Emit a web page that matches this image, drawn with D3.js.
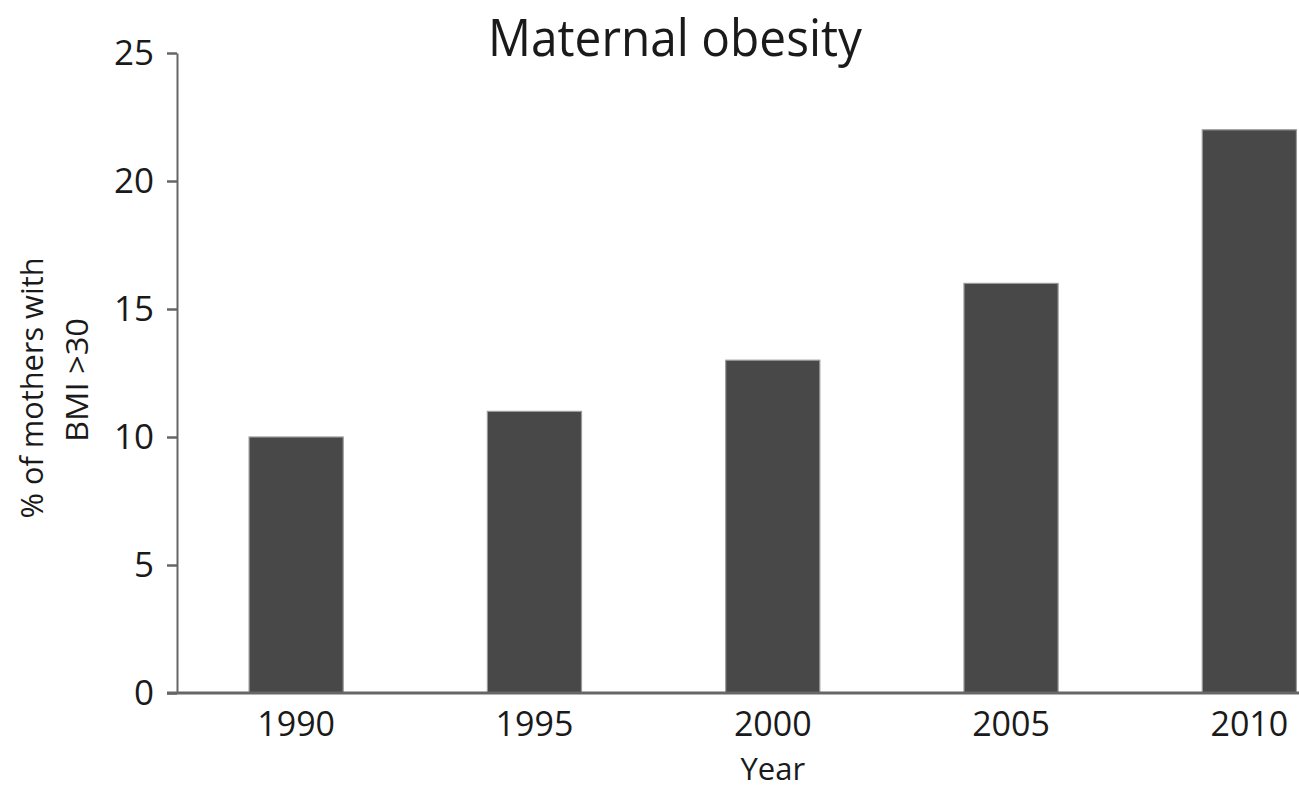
<!DOCTYPE html>
<html>
<head>
<meta charset="utf-8">
<script src="https://cdn.jsdelivr.net/npm/d3@7"></script>
<style>
  html, body { margin: 0; padding: 0; background: #fff; }
  svg { display: block; }
  text { font-family: "Open Sans", "Noto Sans", sans-serif; fill: #1a1a1a; }
</style>
</head>
<body>
<svg id="chart" width="1299" height="789"></svg>
<script>
// Share of mothers with BMI > 30, by year
const years = ["1990", "1995", "2000", "2005", "2010"];
const obesityPct = [10, 11, 13, 16, 22];
const yTicks = [0, 5, 10, 15, 20, 25];

const chartTitle = "Maternal obesity";
const yLabelLines = ["% of mothers with", "BMI >30"];
const xLabel = "Year";

const svg = d3.select("#chart");
const W = 1299, H = 789;
const axisX = 177, baseY = 693, topY = 53;
const step = 238.3;

const x = d3.scaleBand()
  .domain(years)
  .range([axisX, axisX + step * years.length])
  .paddingInner(0.605)
  .paddingOuter(0.3025);

const y = d3.scaleLinear().domain([0, 25]).range([baseY, topY]);

// bars
svg.append("g")
  .selectAll("rect")
  .data(years.map((yr, i) => ({ yr, v: obesityPct[i] })))
  .join("rect")
  .attr("x", d => x(d.yr))
  .attr("y", d => y(d.v))
  .attr("width", x.bandwidth())
  .attr("height", d => y(0) - y(d.v))
  .attr("fill", "#484848")
  .attr("stroke", "#9a9a9a")
  .attr("stroke-width", 1.2);

// y axis
const yAxis = svg.append("g")
  .attr("transform", `translate(${axisX},0)`)
  .call(d3.axisLeft(y).tickValues(yTicks).tickSize(10).tickPadding(13).tickSizeOuter(0));
yAxis.select(".domain").attr("stroke", "#666").attr("stroke-width", 2);
yAxis.selectAll(".tick line").attr("stroke", "#666").attr("stroke-width", 2.5);
yAxis.selectAll(".tick text")
  .attr("font-size", 35)
  .attr("font-family", "'Open Sans', sans-serif")
  .attr("fill", "#1a1a1a");

// x axis
const xAxis = svg.append("g")
  .attr("transform", `translate(0,${baseY})`)
  .call(d3.axisBottom(x).tickSize(0).tickPadding(19).tickSizeOuter(0));
xAxis.select(".domain")
  .attr("d", `M${axisX - 10},0H${W}`)
  .attr("stroke", "#666")
  .attr("stroke-width", 3);
xAxis.selectAll(".tick text")
  .attr("font-size", 34)
  .attr("font-family", "'Open Sans', sans-serif")
  .attr("fill", "#1a1a1a");

// title
svg.append("text")
  .attr("x", 675)
  .attr("y", 56)
  .attr("text-anchor", "middle")
  .attr("font-size", 52)
  .attr("textLength", 374)
  .attr("lengthAdjust", "spacingAndGlyphs")
  .text(chartTitle);

// y axis title (two lines)
const yl = svg.append("text")
  .attr("transform", "translate(0,388) rotate(-90)")
  .attr("text-anchor", "middle")
  .attr("font-size", 31);
yl.append("tspan").attr("x", 0).attr("y", 43)
  .attr("textLength", 261).attr("lengthAdjust", "spacingAndGlyphs")
  .text(yLabelLines[0]);
yl.append("tspan").attr("x", 8).attr("y", 88)
  .attr("textLength", 124).attr("lengthAdjust", "spacingAndGlyphs")
  .text(yLabelLines[1]);

// x axis title
svg.append("text")
  .attr("x", x("2000") + x.bandwidth() / 2)
  .attr("y", 780)
  .attr("text-anchor", "middle")
  .attr("font-size", 31)
  .text(xLabel);
</script>
</body>
</html>
